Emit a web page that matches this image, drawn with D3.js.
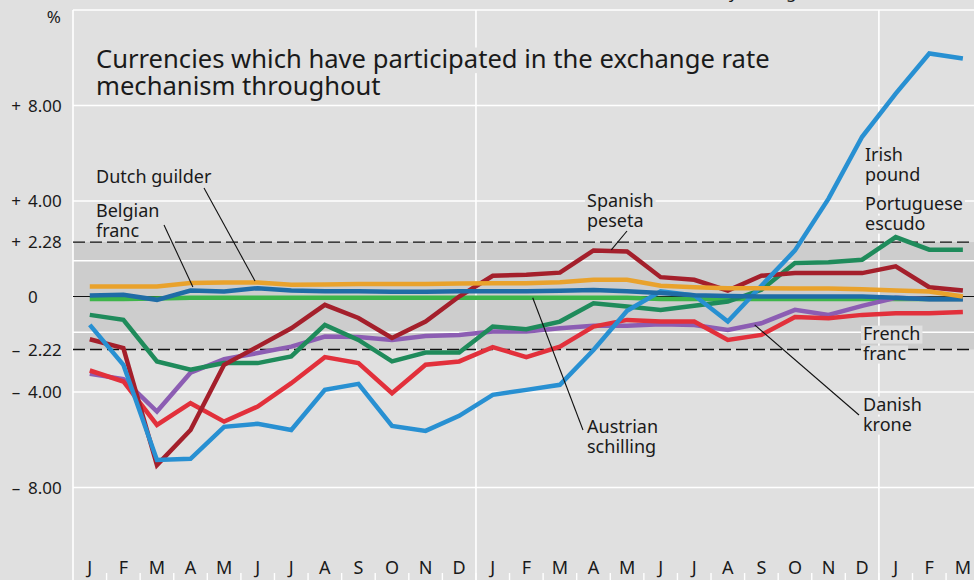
<!DOCTYPE html>
<meta charset="utf-8">
<style>
  body { margin: 0; background: #e0e0e0; }
  text { font-family: "Noto Sans", "Open Sans", sans-serif; fill: #1a1a1a; }
</style>
<body>

    <!-- load the d3.js library -->
    <script src="https://d3js.org/d3.v7.min.js"></script>

    <script>

        // Month tick labels (Jan of year 1 to Mar of year 3)
        var months = ["J","F","M","A","M","J","J","A","S","O","N","D",
                      "J","F","M","A","M","J","J","A","S","O","N","D",
                      "J","F","M"];

        // Deviation (%) of each currency, monthly average
        var irishPound        = [-1.19,-2.86,-6.85,-6.80,-5.46,-5.33,-5.59,-3.91,-3.66,-5.42,-5.63,-5.00,-4.12,-3.91,-3.70,-2.24,-0.60,0.22,0.05,-1.05,0.45,1.93,4.10,6.69,8.50,10.18,9.97];
        var portugueseEscudo  = [-0.77,-0.98,-2.72,-3.07,-2.79,-2.79,-2.51,-1.19,-1.82,-2.72,-2.35,-2.35,-1.26,-1.37,-1.05,-0.28,-0.42,-0.56,-0.39,-0.21,0.28,1.40,1.43,1.54,2.49,1.96,1.96];
        var spanishPeseta     = [-1.79,-2.16,-7.06,-5.59,-2.86,-2.10,-1.33,-0.35,-0.90,-1.74,-1.05,0.00,0.87,0.91,1.00,1.93,1.89,0.81,0.70,0.25,0.87,0.98,0.98,0.98,1.26,0.39,0.25];
        var frenchFranc       = [-3.10,-3.56,-5.38,-4.47,-5.24,-4.61,-3.63,-2.54,-2.79,-4.05,-2.86,-2.72,-2.12,-2.54,-2.10,-1.26,-0.98,-1.05,-1.05,-1.82,-1.61,-0.86,-0.91,-0.77,-0.70,-0.70,-0.65];
        var danishKrone       = [-3.24,-3.46,-4.82,-3.19,-2.62,-2.37,-2.10,-1.68,-1.70,-1.82,-1.65,-1.61,-1.47,-1.47,-1.33,-1.23,-1.23,-1.16,-1.19,-1.40,-1.12,-0.56,-0.77,-0.39,-0.05,-0.10,-0.10];
        var austrianSchilling = [-0.10,-0.10,-0.08,-0.05,-0.05,-0.05,-0.05,-0.05,-0.05,-0.05,-0.05,-0.05,-0.05,-0.05,-0.05,-0.05,-0.05,-0.10,-0.10,-0.10,-0.10,-0.10,-0.10,-0.10,-0.10,-0.10,-0.10];
        var belgianFranc      = [0.04,0.07,-0.14,0.25,0.21,0.35,0.25,0.22,0.22,0.20,0.20,0.22,0.22,0.22,0.24,0.27,0.22,0.15,0.05,0.02,0.00,0.00,0.00,0.00,-0.05,-0.12,-0.12];
        var dutchGuilder      = [0.42,0.42,0.42,0.57,0.59,0.59,0.49,0.50,0.52,0.52,0.52,0.54,0.56,0.56,0.60,0.70,0.70,0.45,0.39,0.35,0.35,0.33,0.33,0.30,0.25,0.21,0.00];

        // Y axis ticks and ERM band limits
        var yTicks = [8, 4, 2.28, 0, -2.22, -4, -8];
        var yTickLabels = ["8.00", "4.00", "2.28", "0", "2.22", "4.00", "8.00"];
        var gridValues = [8, 4, 1.5, -1.5, -4, -8];
        var bandLimits = [2.28, -2.22];

        // Page layout
        var W = 974, H = 580;
        var plotLeft = 73, plotTop = 10;
        var monthW = 33.58;

        var svg = d3.select("body")
                    .append("svg")
                    .attr("width", W)
                    .attr("height", H);

        var x = d3.scaleBand()
                  .domain(d3.range(months.length))
                  .range([plotLeft, plotLeft + monthW * months.length]);
        var xc = function(i) { return x(0) + x.bandwidth() / 2 + i * x.step(); };
        var y = d3.scaleLinear()
                  .domain([-12, 12])
                  .range([583, plotTop]);

        // background
        svg.append("rect").attr("width", W).attr("height", H).attr("fill", "#e0e0e0");

        // shaded band between the limits
        svg.append("rect")
           .attr("x", plotLeft).attr("width", W - plotLeft)
           .attr("y", y(bandLimits[0]))
           .attr("height", y(bandLimits[1]) - y(bandLimits[0]))
           .attr("fill", "#cdcdcd");

        // white grid
        svg.selectAll(".grid")
           .data(gridValues)
           .enter().append("line")
           .attr("x1", plotLeft).attr("x2", W)
           .attr("y1", function(d) { return y(d); })
           .attr("y2", function(d) { return y(d); })
           .attr("stroke", "#fff").attr("stroke-width", 1.6);

        svg.append("line")
           .attr("x1", plotLeft).attr("x2", W).attr("y1", plotTop).attr("y2", plotTop)
           .attr("stroke", "#fff").attr("stroke-width", 1.6);

        // vertical lines: left edge and year boundaries
        [0, 12, 24].forEach(function(i) {
          svg.append("line")
             .attr("x1", x(i)).attr("x2", x(i))
             .attr("y1", plotTop).attr("y2", H)
             .attr("stroke", "#fff").attr("stroke-width", 1.6);
        });

        // month ticks at the bottom
        svg.selectAll(".mtick")
           .data(d3.range(1, months.length))
           .enter().append("line")
           .attr("x1", function(d) { return x(d); })
           .attr("x2", function(d) { return x(d); })
           .attr("y1", 573).attr("y2", H)
           .attr("stroke", "#fff").attr("stroke-width", 1.4);

        // month labels
        svg.selectAll(".mlabel")
           .data(months)
           .enter().append("text")
           .attr("x", function(d, i) { return xc(i); })
           .attr("y", 574)
           .attr("text-anchor", "middle")
           .style("font-size", "18px")
           .text(function(d) { return d; });

        // dashed band limits
        svg.selectAll(".limit")
           .data(bandLimits)
           .enter().append("line")
           .attr("x1", plotLeft).attr("x2", W)
           .attr("y1", function(d) { return y(d); })
           .attr("y2", function(d) { return y(d); })
           .attr("stroke", "#111").attr("stroke-width", 1.3)
           .attr("stroke-dasharray", "12,5");

        // y axis labels
        var yl = svg.append("g");
        yTicks.forEach(function(v, i) {
          yl.append("text")
            .attr("x", 28).attr("y", y(v)).attr("dy", "0.36em")
            .style("font-size", "17px")
            .text(yTickLabels[i]);
          if (v !== 0) {
            yl.append("text")
              .attr("x", 16).attr("y", y(v)).attr("dy", "0.36em")
              .attr("text-anchor", "middle")
              .style("font-size", "17px")
              .text(v > 0 ? "+" : "\u2013");
          }
        });
        yl.append("text").attr("x", 61).attr("y", 23)
          .attr("text-anchor", "end").style("font-size", "17px").text("%");

        // subtitle cut off at the top of the picture
        svg.append("text")
           .attr("x", 806).attr("y", -2)
           .attr("text-anchor", "end")
           .style("font-size", "17px")
           .text("Deviation from central rate, monthly average");

        // labels: [text lines, x, first baseline, line height, font size]
        var labels = [
          [["Currencies which have participated in the exchange rate", "mechanism throughout"], 96, 68, 27, 25.6],
          [["Dutch guilder"], 96, 183, 20, 18],
          [["Belgian", "franc"], 96, 217, 20, 18],
          [["Spanish", "peseta"], 587, 207, 20, 18],
          [["Austrian", "schilling"], 587, 433, 20, 18],
          [["Irish", "pound"], 865, 161, 20, 18],
          [["Portuguese", "escudo"], 865, 210, 20, 18],
          [["French", "franc"], 863, 340, 20, 18],
          [["Danish", "krone"], 863, 411, 20, 18]
        ];

        // one text per label, one tspan per line; a patch of page colour behind each line
        var labelBg = svg.append("g");
        var labelG = svg.append("g");
        labels.forEach(function(l) {
          var t = labelG.append("text")
             .attr("x", l[1]).attr("y", l[2])
             .style("font-size", l[4] + "px");
          l[0].forEach(function(s, j) {
            var ts = t.append("tspan")
               .attr("x", l[1])
               .attr("dy", j === 0 ? 0 : l[3])
               .text(s);
            var w = ts.node().getComputedTextLength();
            labelBg.append("rect")
               .attr("x", l[1] - 2)
               .attr("y", l[2] + j * l[3] - l[4] * 0.8)
               .attr("width", w + 4)
               .attr("height", l[4] * 1.0)
               .attr("fill", "#e0e0e0");
          });
        });

        // zero line
        svg.append("line")
           .attr("x1", plotLeft).attr("x2", W).attr("y1", y(0)).attr("y2", y(0))
           .attr("stroke", "#111").attr("stroke-width", 1.2);

        // currency lines
        var series = [
          {values: austrianSchilling, color: "#3db54a"},
          {values: danishKrone,       color: "#8c5db3"},
          {values: frenchFranc,       color: "#e2303b"},
          {values: portugueseEscudo,  color: "#1f8b5b"},
          {values: spanishPeseta,     color: "#a41f2b"},
          {values: irishPound,        color: "#2890d2"},
          {values: belgianFranc,      color: "#1f6ca6"},
          {values: dutchGuilder,      color: "#e9a22c"}
        ];

        var line = d3.line()
                     .x(function(d, i) { return xc(i); })
                     .y(function(d) { return y(d); });

        svg.selectAll(".series")
           .data(series)
           .enter().append("path")
           .attr("d", function(d) { return line(d.values); })
           .attr("fill", "none")
           .attr("stroke", function(d) { return d.color; })
           .attr("stroke-width", 4.5)
           .attr("stroke-linejoin", "miter");

        // put the text above the lines
        labelG.raise();

        // leader lines: label end [x, y] -> point on series [month index, value]
        var leaders = [
          [[204, 188], [4.92, 0.65]],
          [[164, 225], [3.07, 0.40]],
          [[627, 231], [15.53, 1.95]],
          [[583, 430], [13.19, -0.05]],
          [[859, 415], [19.8, -1.19]]
        ];
        svg.selectAll(".leader")
           .data(leaders)
           .enter().append("line")
           .attr("x1", function(d) { return d[0][0]; })
           .attr("y1", function(d) { return d[0][1]; })
           .attr("x2", function(d) { return xc(d[1][0]); })
           .attr("y2", function(d) { return y(d[1][1]); })
           .attr("stroke", "#111").attr("stroke-width", 1.1);

    </script>
</body>
</html>
